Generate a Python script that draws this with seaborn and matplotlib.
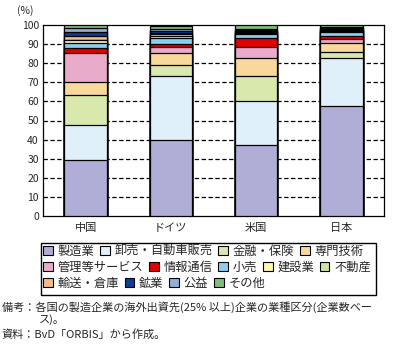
import matplotlib
matplotlib.use("Agg")
import matplotlib.pyplot as plt
from matplotlib.patches import Rectangle, Patch
import seaborn as sns
import numpy as np

sns.set_style("white")
plt.rcParams['font.family'] = ['Noto Sans CJK JP', 'DejaVu Sans']

countries = ["中国", "ドイツ", "米国", "日本"]
categories = ["製造業", "卸売・自動車販売", "金融・保険", "専門技術",
              "管理等サービス", "情報通信", "小売", "建設業", "不動産",
              "輸送・倉庫", "鉱業", "公益", "その他"]
china   = [29.2, 18.4, 15.7, 6.8, 15.2, 2.6, 2.6, 1.4, 0.5, 1.6, 2.1, 2.1, 1.7]
germany = [39.7, 33.6, 5.7, 6.3, 3.2, 1.5, 3.0, 1.5, 0.8, 0.5, 1.0, 1.2, 1.7]
usa     = [37.1, 23.0, 13.2, 9.4, 5.8, 4.7, 2.1, 0.6, 0.5, 0.6, 0.6, 0.5, 1.9]
japan   = [57.5, 25.2, 3.1, 4.8, 2.1, 1.5, 2.1, 0.8, 0.5, 0.5, 0.5, 0.5, 0.9]
colors = ["#b0aed6", "#dff0fb", "#d9e8ad", "#f9d89c", "#e8abc9", "#e00000",
          "#8ecdf0", "#fdf5b0", "#cfe3a0", "#f5b98a", "#0a3e97", "#94acd8",
          "#7fbf7b"]

data = np.array([china, germany, usa, japan])  # countries x categories
cum = np.cumsum(data, axis=1)

fig = plt.figure(figsize=(4.05, 3.47), dpi=100)
ax = fig.add_axes([43/405, 1-216/347, (384-43)/405, (216-25)/347])

# draw from the tallest cumulative down so smaller stacks sit on top
for j in range(len(categories)-1, -1, -1):
    sns.barplot(x=countries, y=cum[:, j], color=colors[j], saturation=1,
                width=0.5, edgecolor="black", linewidth=0.9, ax=ax,
                errorbar=None, zorder=3)

ax.set_xlim(-0.5, 3.5)
ax.set_ylim(0, 100)
ax.set_yticks(np.arange(0, 101, 10))
ax.set_xlabel("")
ax.set_ylabel("")
for y in range(10, 100, 10):
    ax.axhline(y, color="black", lw=0.9, ls=(0, (3.5, 2)), zorder=1)
for s in ax.spines.values():
    s.set_color("black")
    s.set_linewidth(0.9)
ax.tick_params(axis="y", length=0, labelsize=7.5, pad=3)
ax.tick_params(axis="x", length=0, labelsize=8, pad=5)
ax.set_xticks([0.5, 1.5, 2.5], minor=True)
ax.tick_params(axis="x", which="minor", direction="in", length=4, width=0.9, color="black")
fig.text(25/405, 1-11/347, "(%)", ha="center", va="center", fontsize=7.5)

# legend rows
rows = [[0, 1, 2, 3], [4, 5, 6, 7, 8], [9, 10, 11, 12]]
row_y = [251, 267, 283]
for r, yy in zip(rows, row_y):
    handles = [Patch(facecolor=colors[i], edgecolor="black", linewidth=0.8) for i in r]
    labels = [categories[i] for i in r]
    fig.legend(handles, labels, loc="center left", bbox_to_anchor=(43/405, 1-yy/347),
               ncol=len(r), frameon=False, fontsize=8.8, handlelength=0.8,
               handleheight=0.8, handletextpad=0.4, columnspacing=0.45,
               borderpad=0, borderaxespad=0)
fig.add_artist(Rectangle((41/405, 1-295/347), 335/405, 52/347, fill=False,
                         edgecolor="black", linewidth=1.0, transform=fig.transFigure))

fig.text(2/405, 1-307/347, "備考：各国の製造企業の海外出資先(25% 以上)企業の業種区分(企業数ベー",
         ha="left", va="center", fontsize=8.0)
fig.text(39/405, 1-320/347, "ス)。", ha="left", va="center", fontsize=8.0)
fig.text(2/405, 1-334/347, "資料：BvD「ORBIS」から作成。", ha="left", va="center", fontsize=8.0)

fig.savefig("out.png", dpi=100)
